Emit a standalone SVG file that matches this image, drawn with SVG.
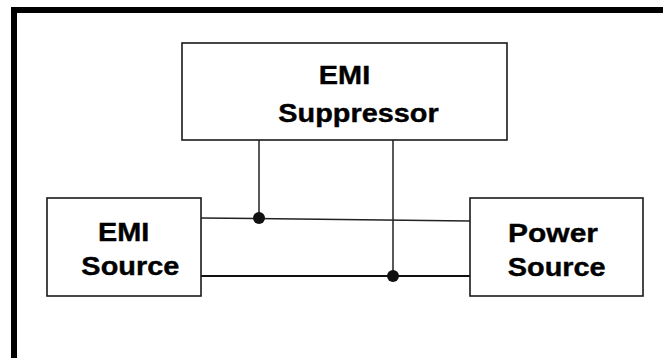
<svg xmlns="http://www.w3.org/2000/svg" width="663" height="358" viewBox="0 0 663 358">
<style>
.box{fill:#fff;stroke:#1a1a1a;stroke-width:1.6}
.lbl{font-family:"Liberation Sans",Arial,sans-serif;font-weight:bold;font-size:26.5px;fill:#000;stroke:#000;stroke-width:0.4;text-anchor:middle}
.w{stroke:#222;stroke-width:1.5;fill:none}
.wb{stroke:#111;stroke-width:2.2;fill:none}
.dot{fill:#111}
</style>
<rect width="663" height="358" fill="#fff"/>
<path d="M14,358 V10 H663" fill="none" stroke="#000" stroke-width="6"/>
<g id="connectors">
<path class="w" d="M201,218 L470,221"/>
<path class="wb" d="M199,276 H470"/>
<path class="w" d="M259,140 V218"/>
<path class="w" d="M393,140 V277"/>
<circle class="dot" cx="259" cy="218" r="6"/>
<circle class="dot" cx="393" cy="276" r="6"/>
</g>
<g id="emi-suppressor">
<rect class="box" x="182" y="43" width="325" height="97"/>
<text class="lbl" transform="translate(344.5,84) scale(1.09,1)">EMI</text>
<text class="lbl" transform="translate(358.5,122) scale(1.09,1)">Suppressor</text>
</g>
<g id="emi-source">
<rect class="box" x="47" y="198" width="154" height="98"/>
<text class="lbl" transform="translate(123.7,241) scale(1.09,1)">EMI</text>
<text class="lbl" transform="translate(130.3,275) scale(1.09,1)">Source</text>
</g>
<g id="power-source">
<rect class="box" x="470" y="198" width="173" height="98"/>
<text class="lbl" transform="translate(553,242) scale(1.13,1)">Power</text>
<text class="lbl" transform="translate(556.7,276) scale(1.09,1)">Source</text>
</g>
</svg>
